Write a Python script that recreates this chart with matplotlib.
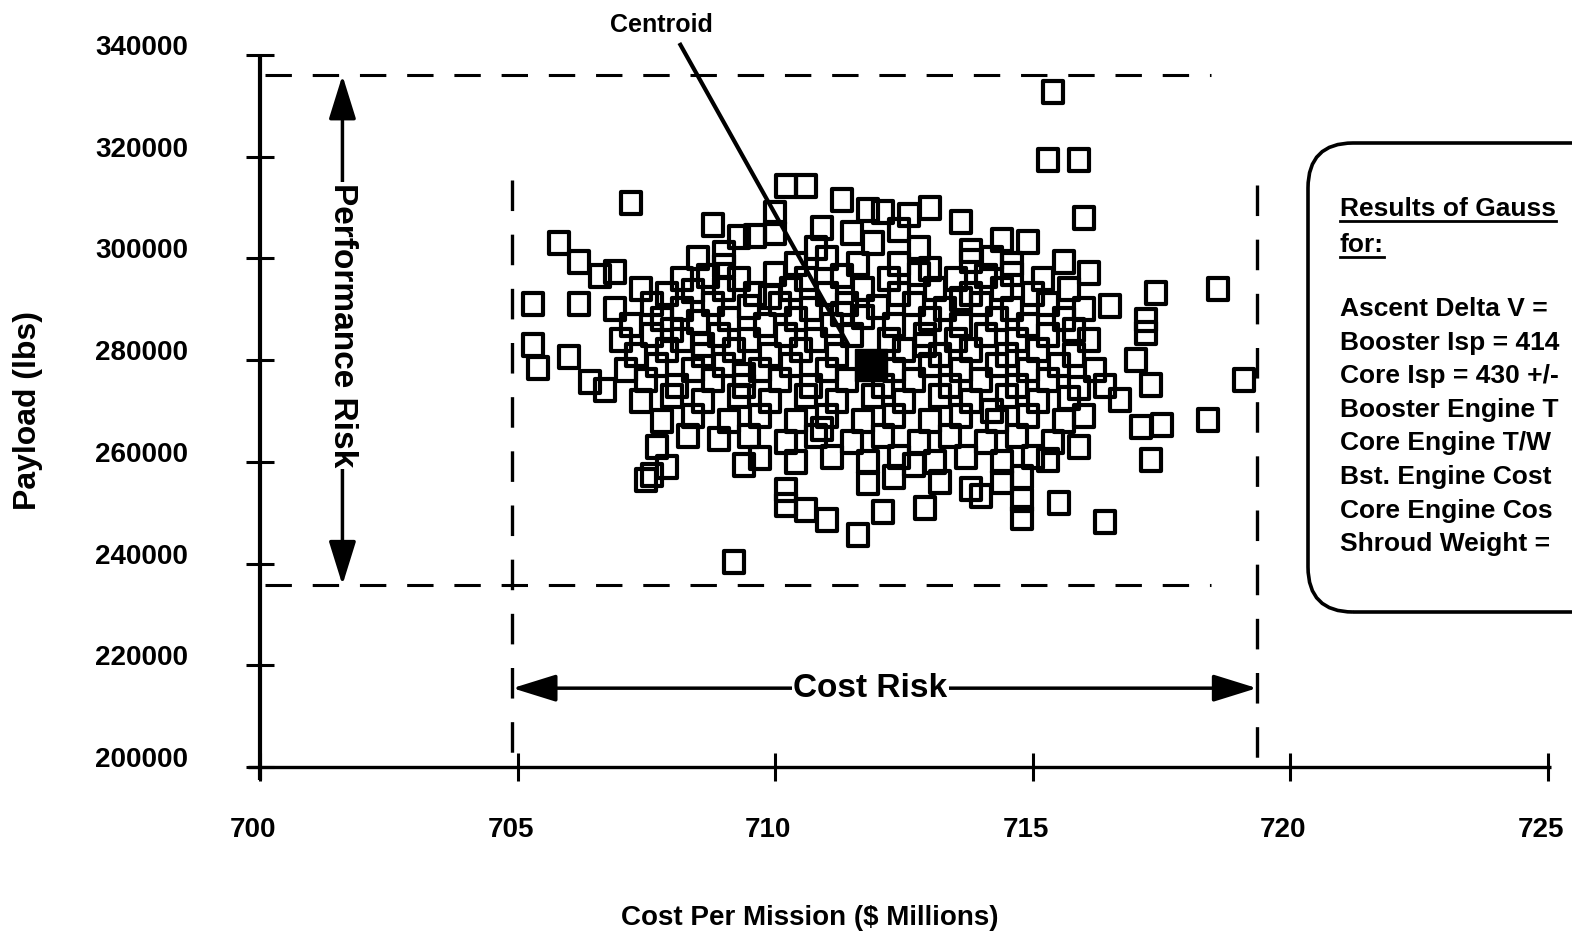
import matplotlib.pyplot as plt
from matplotlib.path import Path
from matplotlib.patches import FancyBboxPatch
from matplotlib.lines import Line2D
from matplotlib.transforms import ScaledTranslation

plt.rcParams['font.family'] = ['Liberation Sans', 'DejaVu Sans']
plt.rcParams['font.weight'] = 'bold'
plt.rcParams['lines.scale_dashes'] = False

# Monte Carlo samples (cost in $M, payload in lbs), grouped row by row
cost = [
    715.4, 715.3, 715.9, 716.0, 716.1, 716.5, 717.4, 718.6, 717.2, 717.2, 717.0, 717.3, 719.1, 716.7, 717.1, 717.5, 718.4, 717.3, 716.4,
    707.2, 705.8, 706.2, 706.6, 706.9, 705.3, 706.2, 705.3, 705.4, 706.0, 706.4, 706.7, 707.5, 707.6, 709.2,
    709.4, 709.7, 710.2, 710.2, 710.6, 711.0, 711.6, 711.8, 712.1, 712.7, 712.9, 713.2, 713.8, 714.0, 714.8, 714.8, 715.5, 715.3,
    710.2, 710.6, 711.3, 711.8, 712.1, 712.6, 713.0, 713.6, 708.8, 709.3, 709.6, 708.5, 710.0, 714.4, 714.9, 715.6, 710.9, 711.5, 712.4, 710.0,
    709.0, 710.8, 711.9, 712.8, 713.8,
    709.0, 710.4, 711.0, 711.6, 712.4, 713.0, 713.8, 714.2, 714.6,
    708.2, 708.7, 709.3, 710.0, 710.6, 711.3, 712.2, 712.8, 713.5, 714.1, 714.6, 715.2,
    707.4, 707.9, 708.4, 709.0, 709.6, 710.3, 711.0, 711.7, 712.4, 713.1, 713.8, 714.4, 715.0, 715.7,
    706.9, 707.6, 708.2, 708.8, 709.5, 710.1, 710.7, 711.4, 712.0, 712.7, 713.3, 714.0, 714.6, 715.3, 716.0,
    707.2, 707.8, 708.5, 709.1, 709.8, 710.4, 711.1, 711.7, 712.3, 713.0, 713.6, 714.3, 714.9, 715.6,
    707.0, 707.6, 708.2, 708.9, 709.5, 710.2, 710.8, 711.5, 712.2, 712.9, 713.5, 714.1, 714.7, 715.3, 716.1,
    707.3, 707.9, 708.6, 709.2, 709.9, 710.5, 711.2, 712.5, 713.2, 713.8, 714.5, 715.1, 715.8,
    707.1, 707.7, 708.4, 709.0, 709.7, 710.3, 711.0, 712.3, 713.0, 713.6, 714.3, 714.9, 715.5, 716.2,
    707.5, 708.1, 708.8, 709.4, 710.1, 710.7, 711.4, 712.1, 712.7, 713.4, 714.0, 714.7, 715.3, 715.9, 716.4,
    707.4, 708.0, 708.6, 709.3, 709.9, 710.6, 711.2, 711.9, 712.5, 713.2, 713.8, 714.5, 715.1, 715.7,
    707.8, 708.4, 709.1, 709.7, 710.4, 711.0, 711.7, 712.3, 713.0, 713.6, 714.3, 714.9, 715.6, 716.0,
    707.7, 708.3, 708.9, 709.5, 710.2, 710.8, 711.5, 712.1, 712.8, 713.4, 714.1, 714.7, 715.4, 715.9,
    707.9, 710.4, 711.1, 711.8, 712.4, 713.1, 713.7, 714.4, 715.0,
    712.3, 714.4, 714.8,
    708.0, 708.6, 709.9, 711.3, 712.9, 714.2, 715.8, 710.9, 713.6, 709.4,
]
payload = [
    332700, 319300, 319300, 307900, 297100, 290600, 293200, 294000, 287900, 285300, 280000, 275100, 276100, 272200, 266900, 267200, 268200, 260400, 248200,
    310900, 303000, 299300, 296500, 297300, 291000, 291000, 283000, 278500, 280600, 275700, 274100, 256400, 257400, 240300,
    259400, 260800, 254500, 251600, 250500, 248600, 245600, 255800, 250100, 259400, 250900, 256000, 254700, 253200, 252500, 249000, 251900, 260400,
    314200, 314200, 311500, 309500, 309100, 308500, 309900, 307200, 306600, 304200, 304400, 300100, 309000, 303600, 303200, 299300, 306000, 305000, 305500, 305000,
    301000, 302000, 303000, 302000, 301500,
    298500, 299000, 300000, 299000, 299000, 298000, 299500, 300000, 299000,
    296000, 296500, 296000, 297000, 296000, 296500, 296000, 297000, 296000, 296500, 297000, 296000,
    294000, 293000, 293500, 294000, 293000, 294000, 293000, 294000, 293000, 294000, 293000, 294000, 293000, 294000,
    290000, 291000, 290000, 291000, 290500, 291000, 290000, 291000, 290500, 291000, 290000, 291000, 290000, 291000, 290000,
    287000, 288000, 287500, 288000, 287000, 288000, 287000, 288500, 287000, 288000, 287000, 288000, 287000, 288000,
    284000, 285000, 284000, 285000, 284000, 285000, 284000, 285000, 284000, 285000, 284000, 285000, 284000, 285000, 284000,
    281000, 282000, 281000, 282000, 281000, 282000, 281000, 282000, 281000, 282000, 281000, 282000, 281000,
    278000, 279000, 278000, 279000, 278000, 279000, 278000, 278000, 279000, 278000, 279000, 278000, 279000, 278000,
    276000, 275000, 276000, 275000, 276000, 275000, 276000, 275000, 276000, 275000, 276000, 275000, 276000, 274500, 275000,
    272000, 273000, 272000, 273000, 272000, 273000, 272000, 273000, 272000, 273000, 272000, 273000, 272000, 272500,
    268000, 269000, 268000, 269000, 268000, 269000, 268000, 269000, 268000, 269000, 268000, 269000, 268000, 269000,
    263000, 265000, 264500, 265000, 264000, 265000, 264000, 265000, 264000, 265000, 264000, 265000, 264000, 263000,
    259000, 260000, 261000, 260000, 261000, 260000, 261000, 260000, 261000,
    257000, 256000, 257000,
    286000, 283000, 292500, 289000, 283000, 270000, 286000, 266500, 292000, 277000,
]

centroid = (711.85, 279000)
centroid_label = (707.8, 345900)
centroid_tip = (711.42, 283000)
centroid_tail = (708.16, 342000)

x_ticks = [700, 705, 710, 715, 720, 725]
y_ticks = [200000, 220000, 240000, 260000, 280000, 300000, 320000, 340000]

perf_band = (235800, 336000)     # payload limits of performance risk
cost_band = (704.9, 719.35)      # cost limits of cost risk
perf_arrow_x = 701.6
cost_arrow_y = 215500

box_title = ["Results of Gauss", "for:"]
box_lines = ["Ascent Delta V =", "Booster Isp = 414", "Core Isp = 430 +/-",
             "Booster Engine T", "Core Engine T/W", "Bst. Engine Cost",
             "Core Engine Cos", "Shroud Weight ="]

W, H = 1572, 935
fig = plt.figure(figsize=(W / 100, H / 100), dpi=100)
ax = fig.add_axes([260 / W, 168 / H, 1288 / W, 712 / H])
ax.set_xlim(700, 725)
ax.set_ylim(200000, 340000)
for s in ax.spines.values():
    s.set_visible(False)

# axis lines
ax.plot([699.77, 725.05], [200000, 200000], color='k', lw=2.4, clip_on=False, solid_capstyle='butt')
ax.plot([700, 700], [197400, 340000], color='k', lw=3.0, clip_on=False, solid_capstyle='butt')

ax.set_xticks(x_ticks)
ax.set_yticks(y_ticks)
ax.tick_params(direction='inout', length=20, width=2.2, labelleft=False, labelbottom=False)

off_x = ax.transData + ScaledTranslation(-0.07, -0.63, fig.dpi_scale_trans)
for v in x_ticks:
    ax.text(v, 200000, str(v), transform=off_x, ha='center', va='center', fontsize=20)
off_y = ax.transData + ScaledTranslation(-0.72, 0, fig.dpi_scale_trans)
for v in y_ticks:
    ax.text(700, v, str(v), transform=off_y, ha='right', va='baseline', fontsize=20)

fig.text(28 / W, 1 - 410 / H, "Payload (lbs)", rotation=90, ha='center', va='center', fontsize=23)
fig.text(810 / W, 1 - 918 / H, "Cost Per Mission ($ Millions)", ha='center', va='center', fontsize=20)

# risk band dashed lines
hdash = (0, (19, 15))
vdash = (0, (22, 17))
for yv in perf_band:
    ax.plot([700.1, 718.45], [yv, yv], color='k', lw=2.2, ls=hdash, clip_on=False)
ax.plot([cost_band[0]] * 2, [315400, 199400], color='k', lw=2.4, ls=vdash, clip_on=False)
ax.plot([cost_band[1]] * 2, [314500, 199400], color='k', lw=2.4, ls=vdash, clip_on=False)

# samples (hollow squares, overlapping outlines show through)
rect = Path([(-0.85, -1), (0.85, -1), (0.85, 1), (-0.85, 1), (-0.85, -1)],
            [Path.MOVETO, Path.LINETO, Path.LINETO, Path.LINETO, Path.CLOSEPOLY])
ax.plot(cost, payload, ls='none', marker=rect, ms=16.5, mfc='none', mec='k', mew=3.0, clip_on=False)

# centroid
ax.plot(*centroid, marker='s', ms=23, color='k', ls='none')
ax.plot([centroid_tail[0], centroid_tip[0]], [centroid_tail[1], centroid_tip[1]], color='k', lw=3, clip_on=False)
ax.text(*centroid_label, "Centroid", ha='center', va='center', fontsize=18)

# risk arrows
arrow = dict(arrowstyle='<|-|>,head_length=1.35,head_width=0.42', mutation_scale=20,
             lw=2.5, color='k', shrinkA=0, shrinkB=0)
ax.annotate('', xy=(perf_arrow_x, perf_band[1]), xytext=(perf_arrow_x, perf_band[0]), arrowprops=arrow)
ax.text(perf_arrow_x, 286900, "Performance Risk", rotation=-90, ha='center', va='center', fontsize=24,
        bbox=dict(fc='white', ec='none', pad=1))
ax.annotate('', xy=(cost_band[1], cost_arrow_y), xytext=(cost_band[0], cost_arrow_y), arrowprops=arrow)
ax.text(711.85, cost_arrow_y, "Cost Risk", ha='center', va='center', fontsize=24,
        bbox=dict(fc='white', ec='none', pad=1))

# results box (runs off the right edge)
box = FancyBboxPatch((13.08, 3.23), 6.0, 4.69, boxstyle='round,pad=0,rounding_size=0.45',
                     transform=fig.dpi_scale_trans, fill=False, lw=2.6, ec='k')
fig.add_artist(box)
title_texts = []
for i, s in enumerate(box_title):
    t = fig.text(13.40, 9.35 - 2.16 - 0.36 * i, s, transform=fig.dpi_scale_trans,
                 ha='left', va='baseline', fontsize=19)
    title_texts.append(t)
for i, s in enumerate(box_lines):
    fig.text(13.40, 9.35 - 3.09 - 0.336 * i, s, transform=fig.dpi_scale_trans,
             ha='left', va='center', fontsize=19)

renderer = fig.canvas.get_renderer()
for t in title_texts:
    bb = t.get_window_extent(renderer)
    yb = t.get_position()[1] - 0.05
    fig.add_artist(Line2D([bb.x0 / 100, bb.x1 / 100], [yb, yb], transform=fig.dpi_scale_trans,
                          color='k', lw=2.0))

fig.savefig('out.png', dpi=100)
